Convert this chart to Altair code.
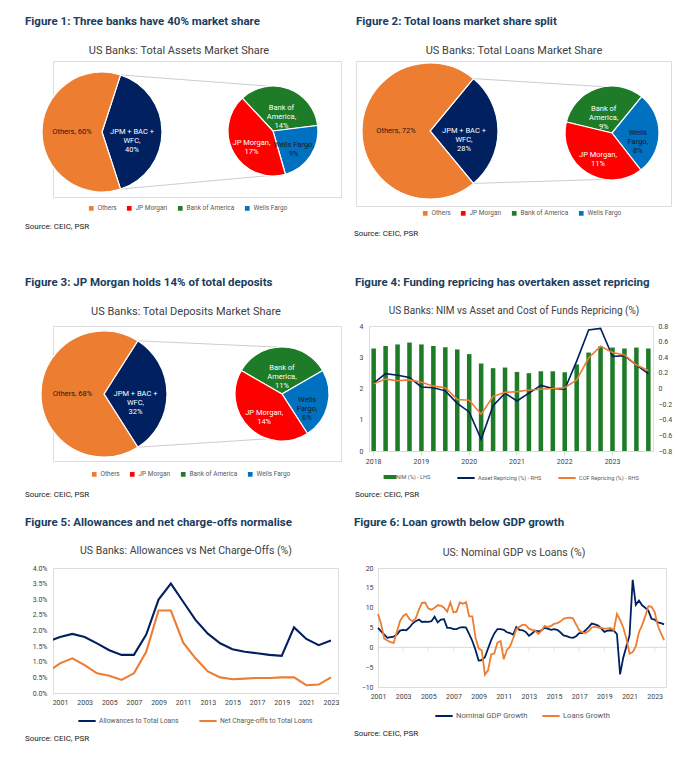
import math
import altair as alt
import pandas as pd

FONT = "Roboto"
FIG_COLOR = "#1A3D5D"
SUB_COLOR = "#404040"
AX_COLOR = "#404040"
LEG_COLOR = "#595959"
NAVY = "#002060"
ORANGE = "#ED7D31"
RED = "#FF0000"
GREEN = "#1E7B27"
BLUE = "#0070C0"
CONN_COLOR = "#BFBFBF"
AXLINE = "#D9D9D9"

# ---------------------------------------------------------------- data
fig_titles = [
    "Figure 1: Three banks have 40% market share",
    "Figure 2: Total loans market share split",
    "Figure 3: JP Morgan holds 14% of total deposits",
    "Figure 4: Funding repricing has overtaken asset repricing",
    "Figure 5: Allowances and net charge-offs normalise",
    "Figure 6: Loan growth below GDP growth",
]
chart_titles = [
    "US Banks: Total Assets Market Share",
    "US Banks: Total Loans Market Share",
    "US Banks: Total Deposits Market Share",
    "US Banks: NIM vs Asset and Cost of Funds Repricing (%)",
    "US Banks: Allowances vs Net Charge-Offs (%)",
    "US: Nominal GDP vs Loans (%)",
]
source_text = "Source: CEIC, PSR"

others_name = "Others"
combined_name = "JPM + BAC + WFC"
bank_names = ["JP Morgan", "Bank of America", "Wells Fargo"]
others_share = [60, 72, 68]          # assets, loans, deposits
combined_share = [40, 28, 32]
assets_bank_share = [17, 14, 9]      # JPM, BAC, WFC
loans_bank_share = [11, 9, 8]
deposits_bank_share = [14, 11, 8]

quarters_4 = [f"{y}Q{q}" for y in range(2018, 2024) for q in range(1, 5)]
fig4_series = ["NIM (%) - LHS", "Asset Repricing (%) - RHS", "COF Repricing (%) - RHS"]
nim = [3.28, 3.36, 3.41, 3.47, 3.41, 3.36, 3.32, 3.25, 3.10, 2.80, 2.65, 2.67,
       2.53, 2.49, 2.55, 2.55, 2.52, 2.77, 3.15, 3.35, 3.31, 3.28, 3.31, 3.28]
asset_repricing = [0.07, 0.19, 0.17, 0.14, 0.02, 0.01, -0.03, -0.19, -0.30, -0.65, -0.22, -0.06,
                   -0.16, -0.06, 0.04, 0.00, -0.01, 0.35, 0.75, 0.77, 0.41, 0.42, 0.30, 0.19]
cof_repricing = [0.06, 0.12, 0.10, 0.11, 0.08, 0.03, 0.01, -0.14, -0.15, -0.33, -0.10, -0.05,
                 -0.04, -0.02, -0.01, 0.00, 0.01, 0.11, 0.39, 0.54, 0.46, 0.43, 0.30, 0.23]
fig4_left_ticks = [0, 1, 2, 3, 4]
fig4_right_ticks = [-0.8, -0.6, -0.4, -0.2, 0, 0.2, 0.4, 0.6, 0.8]

years_5 = list(range(2000, 2024))
fig5_series = ["Allowances to Total Loans", "Net Charge-offs to Total Loans"]
allowances = [1.64, 1.79, 1.89, 1.79, 1.59, 1.37, 1.22, 1.22, 1.87, 2.99, 3.50, 2.92,
              2.34, 1.90, 1.59, 1.40, 1.32, 1.27, 1.22, 1.19, 2.10, 1.73, 1.53, 1.68]
net_chargeoffs = [0.67, 0.95, 1.11, 0.89, 0.63, 0.55, 0.42, 0.63, 1.32, 2.64, 2.64, 1.61,
                  1.11, 0.69, 0.50, 0.44, 0.46, 0.48, 0.48, 0.50, 0.50, 0.25, 0.27, 0.50]
fig5_x_ticks = list(range(2001, 2024, 2))
fig5_y_ticks = [0, 0.5, 1, 1.5, 2, 2.5, 3, 3.5, 4]

quarter_time_6 = [y + q / 4 for y in range(2001, 2024) for q in range(4)]
fig6_series = ["Nominal GDP Growth", "Loans Growth"]
gdp_growth = [4.9, 4.0, 3.2, 2.4, 2.6, 2.7, 3.2, 4.2, 4.4, 4.3, 5.0, 6.0,
              6.6, 7.0, 6.4, 6.5, 6.4, 6.6, 7.7, 6.3, 7.0, 7.1, 4.9, 4.9,
              4.6, 4.6, 5.0, 5.1, 5.0, 3.3, 1.6, -0.6, -3.3, -3.2, -2.5, -0.3,
              1.8, 3.5, 4.6, 4.6, 4.4, 3.8, 3.6, 3.2, 5.1, 4.4, 4.3, 3.9,
              2.9, 3.5, 4.2, 4.0, 4.3, 4.9, 4.7, 4.4, 4.6, 4.4, 3.8, 3.0,
              2.8, 2.5, 2.4, 2.8, 3.6, 3.6, 4.3, 5.1, 6.0, 5.8, 5.5, 4.8,
              3.9, 4.2, 4.3, 4.2, 3.3, -6.8, -2.6, 0.2, 3.0, 17.0, 10.7, 11.8,
              10.6, 10.0, 9.2, 7.2, 7.0, 6.3, 6.1, 5.8]
loans_growth = [8.4, 5.8, 2.2, 1.7, 1.3, 1.1, 3.9, 6.6, 7.9, 8.4, 7.1, 6.6,
                7.3, 9.5, 11.2, 11.3, 9.8, 9.5, 10.0, 10.6, 10.5, 10.0, 9.0, 11.3,
                8.8, 9.0, 11.3, 11.0, 11.4, 7.8, 7.8, 2.5, -0.2, -0.8, -6.9, -5.8,
                -1.8, -1.5, 1.2, 1.6, -3.0, -0.6, 0.2, 2.3, 4.6, 5.2, 5.7, 5.6,
                4.7, 4.4, 4.2, 3.4, 4.2, 5.4, 5.1, 5.4, 5.9, 6.1, 6.5, 7.2,
                7.4, 7.5, 7.3, 5.8, 4.3, 3.8, 3.6, 4.1, 5.0, 5.2, 5.0, 4.9,
                4.7, 4.7, 4.9, 4.3, 8.4, 6.9, 5.0, 2.2, -1.6, -1.2, 0.2, 3.8,
                5.6, 7.8, 10.4, 10.2, 8.9, 5.5, 3.5, 1.8]
fig6_x_ticks = list(range(2001, 2024, 2))
fig6_y_ticks = [-10, -5, 0, 5, 10, 15, 20]


# ---------------------------------------------------------------- helpers
def text_layer(t, x, y, size, weight="normal", color="#000000", align="left"):
    return alt.Chart(pd.DataFrame({"t": [t]})).mark_text(
        align=align, baseline="alphabetic", fontSize=size, fontWeight=weight,
        color=color, font=FONT
    ).encode(text="t:N", x=alt.value(x), y=alt.value(y))


def header_layers(idx, title_xy, sub_xy, sub_size, src_xy):
    return [
        text_layer(fig_titles[idx], title_xy[0], title_xy[1], 11.5, "bold", FIG_COLOR),
        text_layer(chart_titles[idx], sub_xy[0], sub_xy[1], sub_size, "normal", SUB_COLOR, "center"),
        text_layer(source_text, src_xy[0], src_xy[1], 8, "normal", "#1A1A1A"),
    ]


def line_legend(lx, ly, pad, size):
    return alt.Legend(orient="none", legendX=lx, legendY=ly, direction="horizontal", title=None,
                      symbolType="stroke", symbolStrokeWidth=2, symbolSize=300,
                      labelFontSize=size, labelColor=LEG_COLOR, labelFont=FONT,
                      columnPadding=pad, labelOffset=2)


def pie_panel(idx, shares, wf_wrap, W, H, c1, r1, c2, r2, start2, conn, leg, title_xy, sub_xy, src_xy):
    others = others_share[idx]
    comb = combined_share[idx]
    sweep = 2 * math.pi * comb / (others + comb)
    a0 = math.pi / 2 - sweep / 2
    rng1 = [a0, a0 + 2 * math.pi]
    prim = pd.DataFrame({
        "cat": [combined_name, others_name],
        "val": [comb, others],
        "ord": [0, 1],
        "lbl": [f"JPM + BAC +\nWFC,\n{comb}%", f"{others_name}, {others}%"],
    })
    jpm, bac, wf = shares
    wf_lbl = f"Wells\nFargo,\n{wf}%" if wf_wrap else f"Wells Fargo,\n{wf}%"
    sec = pd.DataFrame({
        "cat": [bank_names[1], bank_names[2], bank_names[0]],
        "val": [bac, wf, jpm],
        "ord": [0, 1, 2],
        "lbl": [f"Bank of\nAmerica,\n{bac}%", wf_lbl, f"JP Morgan,\n{jpm}%"],
    })
    s2 = math.radians(start2)
    rng2 = [s2, s2 + 2 * math.pi]

    color_scale = alt.Scale(domain=[others_name] + bank_names + [combined_name],
                            range=[ORANGE, RED, GREEN, BLUE, NAVY])
    legend = alt.Legend(values=[others_name] + bank_names, orient="none", legendX=leg[0], legendY=leg[1],
                        direction="horizontal", title=None, symbolType="square", symbolSize=22,
                        symbolStrokeWidth=0, labelFontSize=6.5, labelColor=LEG_COLOR, labelFont=FONT,
                        columnPadding=9, labelOffset=3)

    def arc(df, c, r, rng):
        return alt.Chart(df).mark_arc(outerRadius=r, stroke="white", strokeWidth=1.2).encode(
            theta=alt.Theta("val:Q", stack=True, scale=alt.Scale(range=rng)),
            order=alt.Order("ord:Q"),
            color=alt.Color("cat:N", scale=color_scale, legend=legend),
            x=alt.value(c[0]), y=alt.value(c[1]),
        )

    def labels(df, c, r, rng):
        return alt.Chart(df).mark_text(radius=r, lineBreak="\n", fontSize=7.5, font=FONT,
                                       align="center", baseline="middle", lineHeight=9).encode(
            theta=alt.Theta("val:Q", stack=True, scale=alt.Scale(range=rng)),
            order=alt.Order("ord:Q"),
            text="lbl:N",
            color=alt.condition(alt.FieldOneOfPredicate(field="cat", oneOf=[others_name, bank_names[2]]),
                                alt.value("#1A1A1A"), alt.value("white")),
            x=alt.value(c[0]), y=alt.value(c[1]),
        )

    def pt(c, r, a):
        return (c[0] + r * math.sin(a), c[1] - r * math.cos(a))

    pu = pt(c1, r1, a0)
    pl = pt(c1, r1, a0 + sweep)
    qu = pt(c2, r2, math.radians(conn[0]))
    ql = pt(c2, r2, math.radians(conn[1]))
    conn_df = pd.DataFrame({"x": [pu[0], pl[0]], "y": [pu[1], pl[1]],
                            "x2": [qu[0], ql[0]], "y2": [qu[1], ql[1]]})
    rules = alt.Chart(conn_df).mark_rule(color=CONN_COLOR, strokeWidth=0.8).encode(
        x=alt.X("x:Q", scale=None, axis=None), y=alt.Y("y:Q", scale=None, axis=None),
        x2="x2:Q", y2="y2:Q")

    layers = [rules, arc(prim, c1, r1, rng1), labels(prim, c1, 0.5 * r1, rng1),
              arc(sec, c2, r2, rng2), labels(sec, c2, 0.55 * r2, rng2)]
    layers += header_layers(idx, title_xy, sub_xy, 11, src_xy)
    return alt.layer(*layers).resolve_scale(theta="independent").properties(width=W, height=H)


# ---------------------------------------------------------------- pies
# panel origins (page px): p1 (52,60)  p2 (355,60)  p3 (52,325)
p1 = pie_panel(0, assets_bank_share, False, 288, 136, (49, 71), 60, (220, 70), 45, -43, (-5, 163),
               (35, 144), (-28, -36), (126, -7), (-28, 168))
p2 = pie_panel(1, loans_bank_share, True, 315, 145, (74, 70), 68, (256, 72), 47, -76.5, (-10, 189),
               (66, 149), (0, -36), (158, -7), (-2, 175))
p3 = pie_panel(2, deposits_bank_share, True, 288, 135, (51, 68), 63, (229, 68), 47, -60, (-4, 155),
               (38, 145), (-28, -40), (133, -11), (-28, 171))

# ---------------------------------------------------------------- figure 4  (origin 368,325)
W4, H4 = 284, 125
bars_df = pd.DataFrame({"q": quarters_4, "v": nim, "s": [fig4_series[0]] * len(quarters_4)})
lines4_df = pd.DataFrame({
    "q": quarters_4 + quarters_4,
    "v": asset_repricing + cof_repricing,
    "s": [fig4_series[1]] * len(quarters_4) + [fig4_series[2]] * len(quarters_4),
})
x4_axis = alt.Axis(values=[q for q in quarters_4 if q.endswith("Q1")],
                   labelExpr="substring(datum.value, 0, 4)", labelAngle=0, title=None,
                   domainColor=AXLINE, tickColor=AXLINE, tickSize=4, labelFontSize=7,
                   labelColor=AX_COLOR, labelPadding=2, grid=False)
bars4 = alt.Chart(bars_df).mark_bar().encode(
    x=alt.X("q:N", sort=quarters_4, scale=alt.Scale(paddingInner=0.62, paddingOuter=0.2), axis=x4_axis),
    y=alt.Y("v:Q", scale=alt.Scale(domain=[0, 4]), title=None,
            axis=alt.Axis(values=fig4_left_ticks, domain=False, ticks=False, grid=False,
                          labelFontSize=7, labelColor=AX_COLOR, labelPadding=6)),
    color=alt.Color("s:N", scale=alt.Scale(domain=[fig4_series[0]], range=[GREEN]),
                    legend=alt.Legend(orient="none", legendX=17, legendY=147, direction="horizontal",
                                      title=None, symbolType="M-1.6,-0.5H1.6V0.5H-1.6Z", symbolSize=64,
                                      symbolStrokeWidth=0, labelFontSize=5.6, labelColor=LEG_COLOR,
                                      labelFont=FONT, labelOffset=2)),
)
lines4 = alt.Chart(lines4_df).mark_line(strokeWidth=1.6).encode(
    x=alt.X("q:N", sort=quarters_4, bandPosition=0.5),
    y=alt.Y("v:Q", scale=alt.Scale(domain=[-0.8, 0.8]), title=None,
            axis=alt.Axis(orient="right", values=fig4_right_ticks, format=".1~f", domain=False,
                          ticks=False, grid=False, labelFontSize=7, labelColor=AX_COLOR, labelPadding=5)),
    stroke=alt.Stroke("s:N", scale=alt.Scale(domain=fig4_series[1:], range=[NAVY, ORANGE]),
                      legend=line_legend(87, 142, 12, 5.6)),
)
p4 = alt.layer(bars4, lines4, *header_layers(3, (-14, -40), (145, -12), 10, (-14, 171))).resolve_scale(
    y="independent").properties(width=W4, height=H4)

# ---------------------------------------------------------------- figure 5  (origin 52,567)
W5, H5 = 285, 125
df5 = pd.DataFrame({
    "yr": years_5 + years_5,
    "v": allowances + net_chargeoffs,
    "s": [fig5_series[0]] * len(years_5) + [fig5_series[1]] * len(years_5),
})
lines5 = alt.Chart(df5).mark_line(strokeWidth=2.1, clip=True).encode(
    x=alt.X("yr:Q", title=None, scale=alt.Scale(domain=[2000.43, 2023.57], nice=False, zero=False),
            axis=alt.Axis(values=fig5_x_ticks, format="d", grid=False, ticks=False, domainColor=AXLINE,
                          labelFontSize=7, labelColor=AX_COLOR, labelPadding=5, labelFlush=False,
                          labelOverlap=False)),
    y=alt.Y("v:Q", title=None, scale=alt.Scale(domain=[0, 4]),
            axis=alt.Axis(values=fig5_y_ticks, labelExpr="format(datum.value, '.1f') + '%'", domain=False,
                          ticks=False, grid=False, labelFontSize=7, labelColor=AX_COLOR, labelPadding=6)),
    stroke=alt.Stroke("s:N", scale=alt.Scale(domain=fig5_series, range=[NAVY, ORANGE]),
                      legend=line_legend(24, 143, 16, 6.8)),
)
p5 = alt.layer(lines5, *header_layers(4, (-28, -42), (133, -14), 10.5, (-28, 173))).properties(
    width=W5, height=H5)

# ---------------------------------------------------------------- figure 6  (origin 377,567)
W6, H6 = 288, 119
df6 = pd.DataFrame({
    "t": quarter_time_6 + quarter_time_6,
    "v": gdp_growth + loans_growth,
    "s": [fig6_series[0]] * len(quarter_time_6) + [fig6_series[1]] * len(quarter_time_6),
})
x6_scale = alt.Scale(domain=[2001, 2023.9], nice=False, zero=False)
y6_scale = alt.Scale(domain=[-10, 20], nice=False)
x6_axis = alt.Axis(values=fig6_x_ticks, format="d", grid=False, ticks=False, domain=False,
                   labelFontSize=7, labelColor=AX_COLOR, labelPadding=5, labelFlush=False,
                   labelOverlap=False)
y6_axis = alt.Axis(values=fig6_y_ticks, domain=False, ticks=False, grid=False, labelFontSize=7,
                   labelColor=AX_COLOR, labelPadding=5, labelOverlap=False)
zero6 = alt.Chart(pd.DataFrame({"z": [0]})).mark_rule(color=AXLINE, strokeWidth=1).encode(
    y=alt.Y("z:Q", title=None, scale=y6_scale, axis=y6_axis))
ticks6 = alt.Chart(pd.DataFrame({"t": fig6_x_ticks, "z": [0] * len(fig6_x_ticks)})).mark_tick(
    orient="vertical", size=4, thickness=1, color=AXLINE, yOffset=2).encode(
    x=alt.X("t:Q", title=None, scale=x6_scale, axis=x6_axis),
    y=alt.Y("z:Q", title=None, scale=y6_scale, axis=y6_axis))
lines6 = alt.Chart(df6).mark_line(strokeWidth=1.8).encode(
    x=alt.X("t:Q", title=None, scale=x6_scale, axis=x6_axis),
    y=alt.Y("v:Q", title=None, scale=y6_scale, axis=y6_axis),
    stroke=alt.Stroke("s:N", scale=alt.Scale(domain=fig6_series, range=[NAVY, ORANGE]),
                      legend=line_legend(56, 138, 10, 7.6)),
)
p6 = alt.layer(zero6, ticks6, lines6, *header_layers(5, (-24, -42), (136, -12), 10.5, (-24, 168))).properties(
    width=W6, height=H6)

# ---------------------------------------------------------------- layout
# with flush bounds the nested concat rows count as zero height, so the
# vertical spacing is the distance between the rows' plot origins
def indep(c):
    return c.resolve_scale(color="independent", stroke="independent").resolve_legend(
        color="independent", stroke="independent")


row1 = indep(alt.hconcat(p1, p2, spacing=15, bounds="flush"))
row2 = indep(alt.hconcat(p3, p4, spacing=28, bounds="flush"))
row3 = indep(alt.hconcat(p5, p6, spacing=40, bounds="flush"))
top = indep(alt.vconcat(row1, row2, spacing=265, bounds="flush"))
chart = indep(alt.vconcat(top, row3, spacing=507, bounds="flush")).properties(
    padding={"left": 16, "top": 7, "right": 2, "bottom": 2}, background="white"
).configure_view(stroke=None).configure(font=FONT)

chart.save("out.html", embed_options={"renderer": "svg", "actions": False})
